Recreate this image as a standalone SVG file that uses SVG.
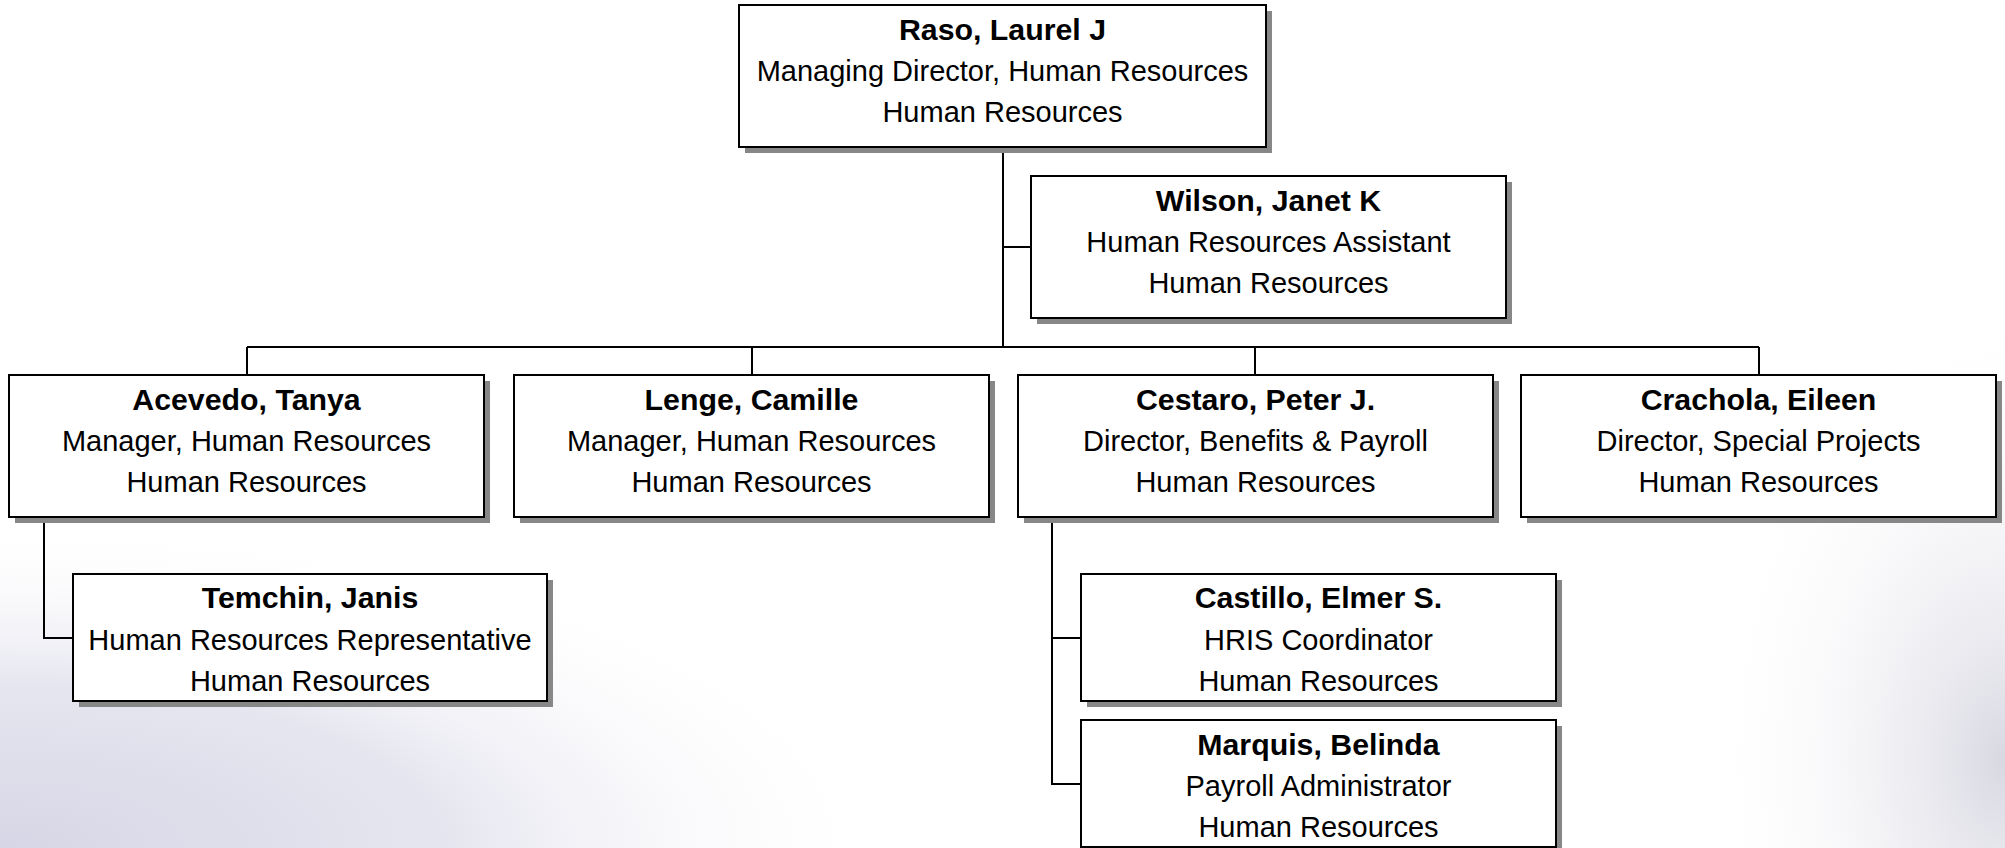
<svg xmlns="http://www.w3.org/2000/svg" width="2005" height="848" viewBox="0 0 2005 848">
  <defs>
    <radialGradient id="bgL" cx="0" cy="848" r="1" gradientUnits="userSpaceOnUse" gradientTransform="translate(0 848) scale(900 330) translate(0 -848)">
      <stop offset="0" stop-color="#d6d6e6"/>
      <stop offset="0.5" stop-color="#e6e6f0"/>
      <stop offset="1" stop-color="#ffffff" stop-opacity="0"/>
    </radialGradient>
    <radialGradient id="bgR" cx="2005" cy="760" r="1" gradientUnits="userSpaceOnUse" gradientTransform="translate(2005 760) scale(300 460) translate(-2005 -760)">
      <stop offset="0" stop-color="#d8d8e2"/>
      <stop offset="1" stop-color="#ffffff" stop-opacity="0"/>
    </radialGradient>
    <style>
      .shadow{fill:#878787}
      .box{fill:#ffffff;stroke:#000000;stroke-width:2}
      .t{font-family:"Liberation Sans",Arial,sans-serif;font-size:29px;text-anchor:middle;fill:#000000}
      .b{font-weight:bold;font-size:30.3px}
      .conn{stroke:#000000;stroke-width:2;fill:none}
    </style>
  </defs>
  <rect x="0" y="0" width="2005" height="848" fill="#ffffff"/>
  <rect x="0" y="0" width="2005" height="848" fill="url(#bgL)"/>
  <rect x="0" y="0" width="2005" height="848" fill="url(#bgR)"/>

  <g id="connectors">
    <path class="conn" d="M1003,147 V347"/>
    <path class="conn" d="M1003,247 H1031"/>
    <path class="conn" d="M247,347 H1759"/>
    <path class="conn" d="M247,347 V375"/>
    <path class="conn" d="M752,347 V375"/>
    <path class="conn" d="M1255,347 V375"/>
    <path class="conn" d="M1759,347 V375"/>
    <path class="conn" d="M44,517 V638 H73"/>
    <path class="conn" d="M1052,517 V784 H1081"/>
    <path class="conn" d="M1052,638 H1081"/>
  </g>

  <g id="raso">
    <rect class="shadow" x="745" y="11" width="527" height="142"/>
    <rect class="box" x="739" y="5" width="527" height="142"/>
    <text class="t b" x="1002.5" y="40">Raso, Laurel J</text>
    <text class="t" x="1002.5" y="81">Managing Director, Human Resources</text>
    <text class="t" x="1002.5" y="122">Human Resources</text>
  </g>

  <g id="wilson">
    <rect class="shadow" x="1037" y="182" width="475" height="142"/>
    <rect class="box" x="1031" y="176" width="475" height="142"/>
    <text class="t b" x="1268.5" y="211">Wilson, Janet K</text>
    <text class="t" x="1268.5" y="252">Human Resources Assistant</text>
    <text class="t" x="1268.5" y="293">Human Resources</text>
  </g>

  <g id="acevedo">
    <rect class="shadow" x="15" y="381" width="475" height="142"/>
    <rect class="box" x="9" y="375" width="475" height="142"/>
    <text class="t b" x="246.5" y="410">Acevedo, Tanya</text>
    <text class="t" x="246.5" y="451">Manager, Human Resources</text>
    <text class="t" x="246.5" y="492">Human Resources</text>
  </g>

  <g id="lenge">
    <rect class="shadow" x="520" y="381" width="475" height="142"/>
    <rect class="box" x="514" y="375" width="475" height="142"/>
    <text class="t b" x="751.5" y="410">Lenge, Camille</text>
    <text class="t" x="751.5" y="451">Manager, Human Resources</text>
    <text class="t" x="751.5" y="492">Human Resources</text>
  </g>

  <g id="cestaro">
    <rect class="shadow" x="1024" y="381" width="475" height="142"/>
    <rect class="box" x="1018" y="375" width="475" height="142"/>
    <text class="t b" x="1255.5" y="410">Cestaro, Peter J.</text>
    <text class="t" x="1255.5" y="451">Director, Benefits &amp; Payroll</text>
    <text class="t" x="1255.5" y="492">Human Resources</text>
  </g>

  <g id="crachola">
    <rect class="shadow" x="1527" y="381" width="475" height="142"/>
    <rect class="box" x="1521" y="375" width="475" height="142"/>
    <text class="t b" x="1758.5" y="410">Crachola, Eileen</text>
    <text class="t" x="1758.5" y="451">Director, Special Projects</text>
    <text class="t" x="1758.5" y="492">Human Resources</text>
  </g>

  <g id="temchin">
    <rect class="shadow" x="79" y="580" width="474" height="127"/>
    <rect class="box" x="73" y="574" width="474" height="127"/>
    <text class="t b" x="310" y="608">Temchin, Janis</text>
    <text class="t" x="310" y="650">Human Resources Representative</text>
    <text class="t" x="310" y="691">Human Resources</text>
  </g>

  <g id="castillo">
    <rect class="shadow" x="1087" y="580" width="475" height="127"/>
    <rect class="box" x="1081" y="574" width="475" height="127"/>
    <text class="t b" x="1318.5" y="608">Castillo, Elmer S.</text>
    <text class="t" x="1318.5" y="650">HRIS Coordinator</text>
    <text class="t" x="1318.5" y="691">Human Resources</text>
  </g>

  <g id="marquis">
    <rect class="shadow" x="1087" y="726" width="475" height="127"/>
    <rect class="box" x="1081" y="720" width="475" height="127"/>
    <text class="t b" x="1318.5" y="755">Marquis, Belinda</text>
    <text class="t" x="1318.5" y="796">Payroll Administrator</text>
    <text class="t" x="1318.5" y="837">Human Resources</text>
  </g>
</svg>
